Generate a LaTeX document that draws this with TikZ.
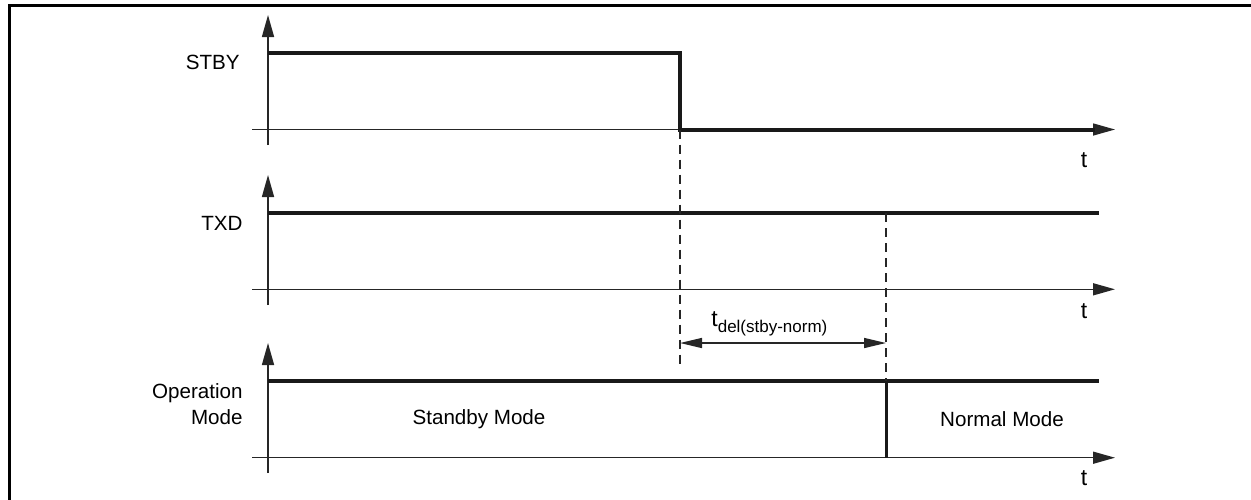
\documentclass[tikz,border=0pt]{standalone}
\usepackage{fontspec}
\setmainfont{Liberation Sans}
\usetikzlibrary{arrows.meta}
\begin{document}
\begin{tikzpicture}[x=0.5pt,y=-0.5pt,
  thinline/.style={line width=0.75pt,draw=black!85},
  sigline/.style={line width=2pt,draw=black!90},
  edgeline/.style={line width=1.5pt,draw=black!90},
  dashline/.style={line width=0.6pt,draw=black!85,dash pattern=on 4.5pt off 3pt},
  axisarrow/.style={thinline,-{Triangle[length=11pt,width=6pt]}},
  dimarrow/.style={thinline,{Triangle[length=11pt,width=5pt]}-{Triangle[length=11pt,width=5pt]}},
  lbl/.style={font=\fontsize{10.3pt}{13pt}\selectfont,inner sep=0pt},
  tlbl/.style={font=\fontsize{11.5pt}{13pt}\selectfont,inner sep=0pt},
  framestyle/.style={line width=1.5pt,draw=black}]
\useasboundingbox (0,0) rectangle (1251,499);
\clip (0,0) rectangle (1251,499);
% frame
\draw[framestyle] (9.5,520) -- (9.5,5) -- (1270,5);

% ---------- STBY panel ----------
\coordinate (sA0) at (268,145);
\coordinate (sA1) at (268,15);
\coordinate (sB0) at (252,129.5);
\coordinate (sB1) at (1115,129.5);
\draw[axisarrow] (sA0) -- (sA1);
\draw[axisarrow] (sB0) -- (sB1);
\coordinate (s1) at (268,52.5);
\coordinate (s2) at (680,52.5);
\coordinate (s3) at (680,129.5);
\coordinate (s4) at (1095,129.5);
\draw[sigline] (s1) -- (s2) -- (s3) -- (s4);
\node[lbl,anchor=east] (stby) at (240,62) {STBY};
\node[tlbl] (t1) at (1084,160) {t};

% ---------- TXD panel ----------
\coordinate (tA0) at (268,305);
\coordinate (tA1) at (268,175);
\coordinate (tB0) at (252,289.3);
\coordinate (tB1) at (1115,289.3);
\draw[axisarrow] (tA0) -- (tA1);
\draw[axisarrow] (tB0) -- (tB1);
\coordinate (x1) at (268,213);
\coordinate (x2) at (1099,213);
\draw[sigline] (x1) -- (x2);
\node[lbl,anchor=east] (txd) at (243,223) {TXD};
\node[tlbl] (t2) at (1084,311) {t};

% ---------- Operation Mode panel ----------
\coordinate (oA0) at (268,473);
\coordinate (oA1) at (268,343);
\coordinate (oB0) at (252,457.7);
\coordinate (oB1) at (1115,457.7);
\draw[axisarrow] (oA0) -- (oA1);
\draw[axisarrow] (oB0) -- (oB1);
\coordinate (o1) at (268,381);
\coordinate (o2) at (1099,381);
\draw[sigline] (o1) -- (o2);
\coordinate (ov0) at (886,381);
\coordinate (ov1) at (886,457.7);
\draw[edgeline] (ov0) -- (ov1);
\node[lbl,anchor=east,align=right] (opm) at (243,404) {Operation\\Mode};
\node[lbl] (stbym) at (479,419) {Standby Mode};
\node[lbl] (normm) at (1002,419) {Normal Mode};
\node[tlbl] (t3) at (1084,478) {t};

% ---------- timing markers ----------
\coordinate (d1a) at (680,129.5);
\coordinate (d1b) at (680,366);
\coordinate (d2a) at (886,213);
\coordinate (d2b) at (886,381);
\draw[dashline] (d1a) -- (d1b);
\draw[dashline] (d2a) -- (d2b);
\coordinate (m1) at (680,343);
\coordinate (m2) at (886,343);
\draw[dimarrow] (m1) -- (m2);
\node[tlbl,anchor=base west] (tdel) at (711,326) {t\raisebox{-3pt}{\fontsize{8.5pt}{10pt}\selectfont del(stby-norm)}};
\end{tikzpicture}
\end{document}
